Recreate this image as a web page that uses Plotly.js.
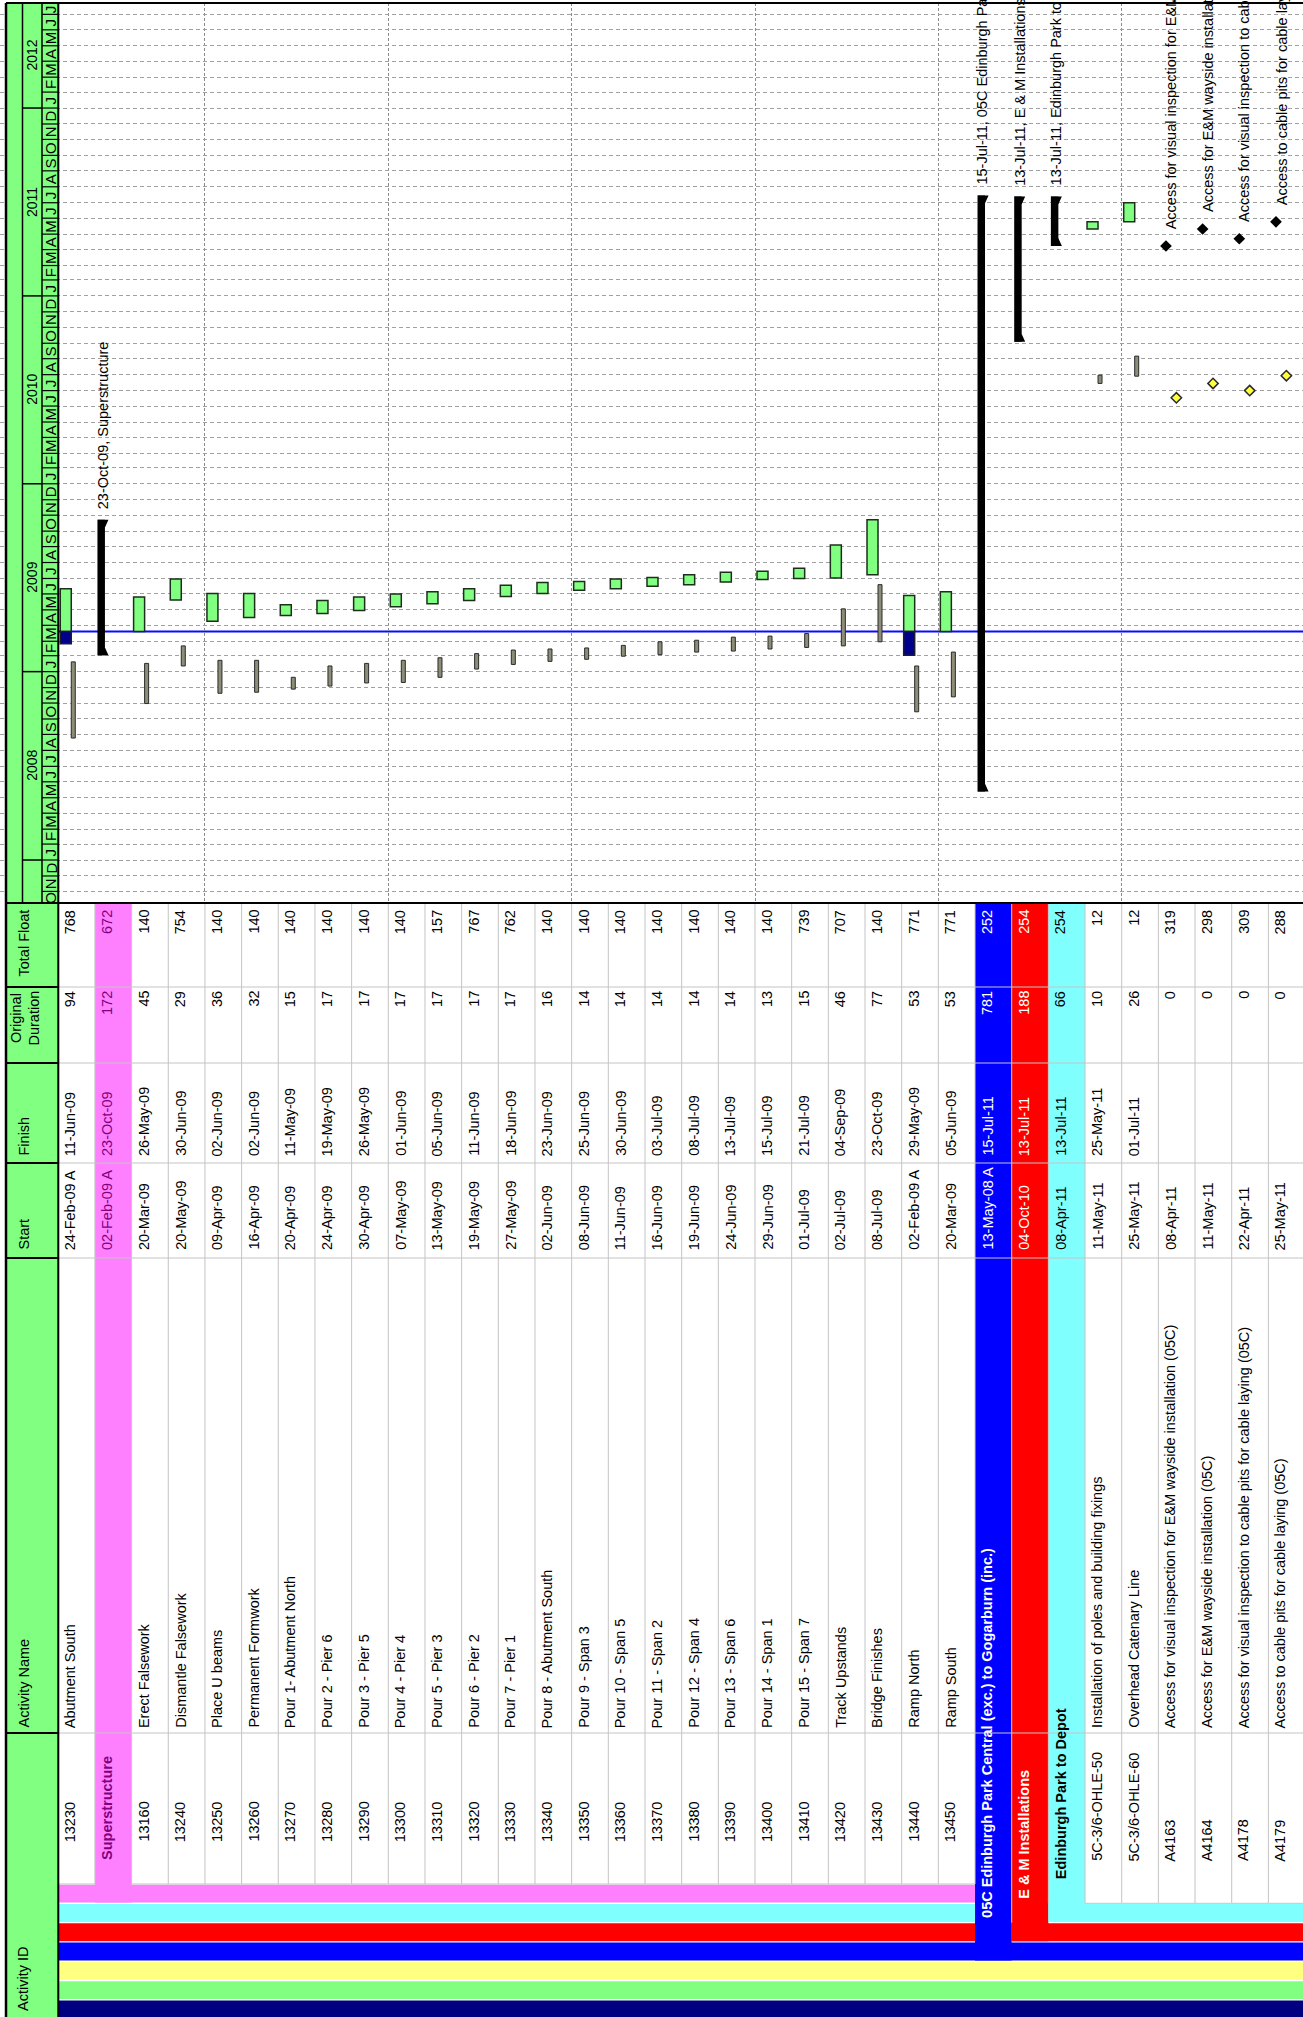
<!DOCTYPE html>
<html><head><meta charset="utf-8">
<script src="https://cdn.plot.ly/plotly-3.0.1.min.js"></script>
<style>html,body{margin:0;padding:0;background:#fff}#chart{width:1303px;height:2017px}</style>
</head><body><div id="chart"></div>
<script>
// ---------------- DATA ----------------
const activityIds = ['13230','','13160','13240','13250','13260','13270','13280','13290','13300','13310','13320','13330','13340','13350','13360','13370','13380','13390','13400','13410','13420','13430','13440','13450','','','','5C-3/6-OHLE-50','5C-3/6-OHLE-60','A4163','A4164','A4178','A4179'];
const activityNames = ['Abutment South','Superstructure','Erect Falsework','Dismantle Falsework','Place U beams','Permanent Formwork','Pour 1- Abutment North','Pour 2 - Pier 6','Pour 3 - Pier 5','Pour 4 - Pier 4','Pour 5 - Pier 3','Pour 6 - Pier 2','Pour 7 - Pier 1','Pour 8 - Abutment South','Pour 9 - Span 3','Pour 10 - Span 5','Pour 11 - Span 2','Pour 12 - Span 4','Pour 13 - Span 6','Pour 14 - Span 1','Pour 15 - Span 7','Track Upstands','Bridge Finishes','Ramp North','Ramp South','05C Edinburgh Park Central (exc.) to Gogarburn (inc.)','E & M Installations','Edinburgh Park to Depot','Installation of poles and building fixings','Overhead Catenary Line','Access for visual inspection for E&M wayside installation (05C)','Access for E&M wayside installation (05C)','Access for visual inspection to cable pits for cable laying (05C)','Access to cable pits for cable laying (05C)'];
const startDates = ['24-Feb-09 A','02-Feb-09 A','20-Mar-09','20-May-09','09-Apr-09','16-Apr-09','20-Apr-09','24-Apr-09','30-Apr-09','07-May-09','13-May-09','19-May-09','27-May-09','02-Jun-09','08-Jun-09','11-Jun-09','16-Jun-09','19-Jun-09','24-Jun-09','29-Jun-09','01-Jul-09','02-Jul-09','08-Jul-09','02-Feb-09 A','20-Mar-09','13-May-08 A','04-Oct-10','08-Apr-11','11-May-11','25-May-11','08-Apr-11','11-May-11','22-Apr-11','25-May-11'];
const finishDates = ['11-Jun-09','23-Oct-09','26-May-09','30-Jun-09','02-Jun-09','02-Jun-09','11-May-09','19-May-09','26-May-09','01-Jun-09','05-Jun-09','11-Jun-09','18-Jun-09','23-Jun-09','25-Jun-09','30-Jun-09','03-Jul-09','08-Jul-09','13-Jul-09','15-Jul-09','21-Jul-09','04-Sep-09','23-Oct-09','29-May-09','05-Jun-09','15-Jul-11','13-Jul-11','13-Jul-11','25-May-11','01-Jul-11','','','',''];
const originalDuration = [94,172,45,29,36,32,15,17,17,17,17,17,17,16,14,14,14,14,14,13,15,46,77,53,53,781,188,66,10,26,0,0,0,0];
const totalFloat = [768,672,140,754,140,140,140,140,140,140,157,767,762,140,140,140,140,140,140,140,739,707,140,771,771,252,254,254,12,12,319,298,309,288];
const rowKinds = ['task','wbs','task','task','task','task','task','task','task','task','task','task','task','task','task','task','task','task','task','task','task','task','task','task','task','wbs','wbs','wbs','task','task','milestone','milestone','milestone','milestone'];
// WBS level (0 pink,1 cyan,2 red,3 blue) of the band a row sits on / a WBS row is coloured with
const rowLevel = [0,0,0,0,0,0,0,0,0,0,0,0,0,0,0,0,0,0,0,0,0,0,0,0,0,3,2,1,1,1,1,1,1,1];
// baseline
const baselineStart = ['2008-08-25','', '2008-10-31','2009-01-12','2008-11-20','2008-11-22','2008-11-28','2008-12-04','2008-12-10','2008-12-11','2008-12-21','2009-01-06','2009-01-15','2009-01-21','2009-01-25','2009-01-31','2009-02-03','2009-02-08','2009-02-10','2009-02-14','2009-02-17','2009-02-20','2009-02-28','2008-10-15','2008-11-13','','','','2010-07-15','2010-07-29','2010-06-17','2010-07-15','2010-07-01','2010-07-30'];
const baselineFinish = ['2009-01-20','', '2009-01-17','2009-02-20','2009-01-23','2009-01-23','2008-12-21','2009-01-12','2009-01-17','2009-01-23','2009-01-28','2009-02-05','2009-02-12','2009-02-14','2009-02-16','2009-02-21','2009-02-28','2009-03-03','2009-03-09','2009-03-11','2009-03-16','2009-05-03','2009-06-19','2009-01-12','2009-02-08','','','','2010-07-31','2010-09-06','','','',''];
const dataDate = '2009-03-20';
const headerLabels = ['Total Float','Original<br>Duration','Finish','Start','Activity Name','Activity ID'];
const monthLetters = ['J','F','M','A','M','J','J','A','S','O','N','D'];

// ---------------- GEOMETRY / STYLE ----------------
const W = 1303, H = 2017;
const PXR = 36.67, ROW0 = 76.6;
const GANTT_TOP = 3, TABLE_TOP = 903;
const COL_EDGES = [903, 987, 1063, 1163, 1258, 1733];
const BAND_TOP = [1884, 1903.3, 1922.6, 1941.9, 1961.2, 1980.5, 1999.8];
const BAND_H = 19.3;
const BAND_COLORS = ['#ff80ff','#80ffff','#ff0000','#0000ff','#ffff80','#80ff80','#000080'];
const WBS_TEXT = ['#800080','#000000','#ffffff','#ffffff'];
const FONT = 'Liberation Sans, Arial, sans-serif';
const FS = 14.5;
const Y_RANGE = ['2007-10-09 12:00:00','2012-07-23 01:40:00'];
const DAY = 86400000;
const py = p => 1 - p / H;
const pxp = p => p / W;
const MON = {Jan:0,Feb:1,Mar:2,Apr:3,May:4,Jun:5,Jul:6,Aug:7,Sep:8,Oct:9,Nov:10,Dec:11};
function p6ms(s){ const m = s.match(/(\d\d)-(\w\w\w)-(\d\d)/); return Date.UTC(2000 + (+m[3]), MON[m[2]], +m[1]); }
function isoMs(s){ const p = s.split('-'); return Date.UTC(+p[0], +p[1]-1, +p[2]); }
function iso(ms){ return new Date(ms).toISOString().slice(0,19).replace('T',' '); }
const esc = t => String(t).replace(/&/g,'&amp;');
const N = activityIds.length;
const DD = isoMs(dataDate);

// ---------------- TRACES ----------------
const green = {x:[],y:[],base:[]}, actual = {x:[],y:[],base:[]}, basel = {x:[],y:[],base:[]}, summ = {x:[],y:[],base:[]};
const triX = [], triY = [], msX = [], msY = [], bmX = [], bmY = [];
const ann = [];
for (let r = 0; r < N; r++) {
  const kind = rowKinds[r];
  const s = p6ms(startDates[r]);
  if (kind === 'task') {
    const f = p6ms(finishDates[r]);
    const isA = /A$/.test(startDates[r]);
    const gs = isA ? Math.max(s, DD) : s;
    green.x.push(r); green.base.push(iso(gs)); green.y.push(f - gs);
    if (isA) { actual.x.push(r); actual.base.push(iso(s)); actual.y.push(DD - s); }
    if (baselineStart[r]) { const b0 = isoMs(baselineStart[r]), b1 = isoMs(baselineFinish[r]); basel.x.push(r); basel.base.push(iso(b0)); basel.y.push(b1 - b0); }
  } else if (kind === 'wbs') {
    const f = p6ms(finishDates[r]);
    summ.x.push(r); summ.base.push(iso(s)); summ.y.push(f - s);
    const xl = r - 0.5 + 2.5/PXR, xrr = r - 0.5 + 10/PXR, xt = r - 0.5 + 13.5/PXR, d = 15*DAY;
    triX.push(xl, xt, xrr, xl, null); triY.push(iso(f), iso(f), iso(f - d), iso(f), null);
    triX.push(xl, xt, xrr, xl, null); triY.push(iso(s), iso(s), iso(s + d), iso(s), null);
    ann.push({text: esc(finishDates[r] + ', ' + activityNames[r]), x: r - 0.5 + 7.5/PXR, y: iso(f), xref:'x', yref:'y', yshift: 10,
      textangle: -90, showarrow:false, xanchor:'center', yanchor:'bottom', borderpad:0, font:{family:FONT, size:FS, color:'#000'}});
  } else if (kind === 'milestone') {
    msX.push(r - 0.5 + 7.6/PXR); msY.push(iso(s));
    if (baselineStart[r]) { bmX.push(r - 0.5 + 18/PXR); bmY.push(iso(isoMs(baselineStart[r]))); }
    ann.push({text: esc(activityNames[r]), x: r - 0.5 + 13/PXR, y: iso(s), xref:'x', yref:'y', yshift: 16,
      textangle: -90, showarrow:false, xanchor:'center', yanchor:'bottom', borderpad:0, font:{family:FONT, size:FS, color:'#000'}});
  }
}
const traces = [
  {type:'bar', x:basel.x, y:basel.y, base:basel.base, width:4/PXR, offset:-0.5+13/PXR, marker:{color:'#8e8e78', line:{color:'#2a2a2a', width:1}}, hoverinfo:'skip'},
  {type:'bar', x:green.x, y:green.y, base:green.base, width:11/PXR, offset:-0.5+2/PXR, marker:{color:'#80ff80', line:{color:'#1c2e1c', width:1.5}}, hoverinfo:'skip'},
  {type:'bar', x:actual.x, y:actual.y, base:actual.base, width:11/PXR, offset:-0.5+2/PXR, marker:{color:'#00008c', line:{color:'#1c1c2e', width:1.5}}, hoverinfo:'skip'},
  {type:'bar', x:summ.x, y:summ.y, base:summ.base, width:7.5/PXR, offset:-0.5+2.5/PXR, marker:{color:'#000000', line:{width:0}}, hoverinfo:'skip'},
  {type:'scatter', mode:'lines', x:triX, y:triY, fill:'toself', fillcolor:'#000', line:{width:0, color:'#000'}, hoverinfo:'skip'},
  {type:'scatter', mode:'markers', x:bmX, y:bmY, marker:{symbol:'diamond', size:8, color:'#ffff40', line:{color:'#2a2a2a', width:1.5}}, hoverinfo:'skip'},
  {type:'scatter', mode:'markers', x:msX, y:msY, marker:{symbol:'diamond', size:9, color:'#000', line:{width:0}}, hoverinfo:'skip'}
];

// ---------------- SHAPES ----------------
const shapes = [];
// data date line
shapes.push({type:'line', xref:'x', yref:'y', x0:-0.5, x1:34, y0:iso(DD), y1:iso(DD), line:{color:'#0a0aff', width:2}, layer:'below'});
function rectX(x0, x1, top, bot, color){ shapes.push({type:'rect', xref:'x', yref:'paper', x0, x1, y0:py(bot), y1:py(top), fillcolor:color, line:{width:0}}); }
function lineX(x0, x1, yPix, color, w){ shapes.push({type:'line', xref:'x', yref:'paper', x0, x1, y0:py(yPix), y1:py(yPix), line:{color, width:w}}); }
function vlineX(x, top, bot, color, w){ shapes.push({type:'line', xref:'x', yref:'paper', x0:x, x1:x, y0:py(bot), y1:py(top), line:{color, width:w}}); }
function lineP(px0, px1, yPix, color, w){ shapes.push({type:'line', xref:'paper', yref:'paper', x0:pxp(px0), x1:pxp(px1), y0:py(yPix), y1:py(yPix), line:{color, width:w}}); }
function vlineP(pxv, top, bot, color, w){ shapes.push({type:'line', xref:'paper', yref:'paper', x0:pxp(pxv), x1:pxp(pxv), y0:py(bot), y1:py(top), line:{color, width:w}}); }
function rectP(px0, px1, top, bot, color){ shapes.push({type:'rect', xref:'paper', yref:'paper', x0:pxp(px0), x1:pxp(px1), y0:py(bot), y1:py(top), fillcolor:color, line:{width:0}}); }

// WBS bands
for (let k = 0; k < 7; k++) {
  let r = 0;
  while (r < N) {
    if (rowLevel[r] <= k) {
      let r1 = r; while (r1 + 1 < N && rowLevel[r1 + 1] <= k) r1++;
      const top = BAND_TOP[k] + 0.7, bot = (k === 6) ? H + 2 : BAND_TOP[k] + BAND_H - 0.7;
      rectX(r - 0.5, r1 === N - 1 ? 34 : r1 + 0.5, top, bot, BAND_COLORS[k]);
      r = r1 + 1;
    } else r++;
  }
}
// WBS row columns
for (let r = 0; r < N; r++) if (rowKinds[r] === 'wbs') {
  const L = rowLevel[r];
  rectX(r - 0.5, r + 0.5, TABLE_TOP, BAND_TOP[L] + BAND_H - 0.7, BAND_COLORS[L]);
}
// table grid
for (let b = 0; b < N - 1; b++) {
  const bot = Math.min(BAND_TOP[rowLevel[b]], BAND_TOP[rowLevel[b + 1]]);
  vlineX(b + 0.5, TABLE_TOP, bot, '#c4c4c4', 1);
}
for (let c = 1; c < COL_EDGES.length; c++) lineX(-0.5, 34, COL_EDGES[c], '#c4c4c4', 1);
for (let r = 0; r < N; r++) if (rowKinds[r] !== 'wbs') lineX(r - 0.5, r + 0.5, BAND_TOP[rowLevel[r]], '#c4c4c4', 1);

// header column (table)
rectP(6, 58.3, TABLE_TOP, H + 2, '#80ff80');
for (let c = 1; c < COL_EDGES.length; c++) lineP(6, 58.3, COL_EDGES[c], '#000', 2);
// time header
rectP(6, 58.3, GANTT_TOP, TABLE_TOP, '#80ff80');
vlineP(22.5, GANTT_TOP, TABLE_TOP, '#000', 1.5);
vlineP(42, GANTT_TOP, TABLE_TOP, '#000', 1.5);
vlineP(58.3, GANTT_TOP, H + 2, '#000', 2);
vlineP(6, GANTT_TOP, H + 2, '#000', 2.5);
lineP(6, W + 2, GANTT_TOP, '#000', 2);
lineP(6, W + 2, TABLE_TOP, '#000', 2);

// months / years
const yBot = Date.parse(Y_RANGE[0].replace(' ','T') + 'Z'), yTop = Date.parse(Y_RANGE[1].replace(' ','T') + 'Z');
for (let y = 2007; y <= 2012; y++) {
  for (let m = 0; m < 12; m++) {
    const a = Date.UTC(y, m, 1), b = Date.UTC(y, m + 1, 1);
    if (b <= yBot || a >= yTop) continue;
    if (a > yBot) shapes.push({type:'line', xref:'paper', yref:'y', x0:pxp(42), x1:pxp(58.3), y0:iso(a), y1:iso(a), line:{color:'#000', width:1.2}});
    const mid = (Math.max(a, yBot) + Math.min(b, yTop)) / 2;
    ann.push({text: monthLetters[m], x: pxp(50.5), y: iso(mid), xref:'paper', yref:'y', textangle:-90, showarrow:false,
      xanchor:'center', yanchor:'middle', borderpad:0, font:{family:FONT, size:15, color:'#000'}});
  }
  const ya = Date.UTC(y, 0, 1), yb = Date.UTC(y + 1, 0, 1);
  if (ya > yBot && ya < yTop) shapes.push({type:'line', xref:'paper', yref:'y', x0:pxp(22.5), x1:pxp(42), y0:iso(ya), y1:iso(ya), line:{color:'#000', width:1.5}});
  const va = Math.max(ya, yBot), vb = Math.min(yb, yTop);
  if (vb - va > 120 * DAY) ann.push({text: String(y), x: pxp(32), y: iso((va + vb) / 2), xref:'paper', yref:'y', textangle:-90, showarrow:false,
      xanchor:'center', yanchor:'middle', borderpad:0, font:{family:FONT, size:14, color:'#000'}});
}

// ---------------- TABLE TEXT ----------------
function cell(text, r, yPix, anchor, color, bold){
  ann.push({text: bold ? '<b>' + esc(text) + '</b>' : esc(text), x: r - 0.5 + 12/PXR, y: py(yPix), xref:'x', yref:'paper', textangle:-90,
    showarrow:false, xanchor:'center', yanchor:anchor, borderpad:0, font:{family:FONT, size:FS, color}});
}
for (let r = 0; r < N; r++) {
  const wbs = rowKinds[r] === 'wbs';
  const col = wbs ? WBS_TEXT[rowLevel[r]] : '#000';
  cell(String(totalFloat[r]), r, 909, 'top', col, false);
  cell(String(originalDuration[r]), r, 990, 'top', col, false);
  if (finishDates[r]) cell(finishDates[r], r, 1157, 'bottom', col, false);
  cell(startDates[r], r, 1251, 'bottom', col, false);
  if (wbs) {
    cell(activityNames[r], r, BAND_TOP[rowLevel[r]] - 23, 'bottom', col, true);
  } else {
    cell(activityNames[r], r, 1729, 'bottom', col, false);
    cell(activityIds[r], r, BAND_TOP[rowLevel[r]] - 41, 'bottom', col, false);
  }
}
// header labels
const hdrAnchor = ['top','top','bottom','bottom','bottom','bottom'];
const hdrY = [909, 990, 1157, 1251, 1729, 2012];
headerLabels.forEach((t, i) => {
  ann.push({text: t, x: pxp(i === 1 ? 25 : 23), y: py(hdrY[i]), xref:'paper', yref:'paper', textangle:-90, showarrow:false,
    xanchor:'center', yanchor:hdrAnchor[i], align:'center', borderpad:0, font:{family:FONT, size:FS, color:'#000'}});
});

const layout = {
  width: W, height: H, margin: {l:0, r:0, t:0, b:0, pad:0},
  paper_bgcolor:'#ffffff', plot_bgcolor:'#ffffff', showlegend:false, barmode:'overlay',
  xaxis: {range:[-ROW0/PXR, (W - ROW0)/PXR], domain:[0,1], showgrid:true, tick0:3.5, dtick:5, gridcolor:'#8a8a8a', griddash:'3px,2px', gridwidth:1,
    zeroline:false, showticklabels:false, ticks:'', showline:false, fixedrange:true},
  yaxis: {type:'date', range:Y_RANGE, domain:[py(TABLE_TOP), py(GANTT_TOP)], showgrid:true, tick0:'2007-10-01', dtick:'M1', gridcolor:'#a0a0a0',
    griddash:'4px,3px', gridwidth:1, zeroline:false, showticklabels:false, ticks:'', showline:false, fixedrange:true},
  shapes, annotations: ann
};
Plotly.newPlot('chart', traces, layout, {staticPlot:true, displayModeBar:false});
</script>
</body></html>
